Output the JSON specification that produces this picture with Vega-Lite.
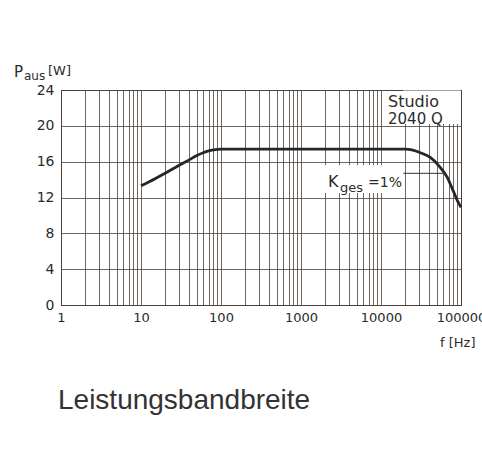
{
  "$schema": "https://vega.github.io/schema/vega-lite/v6.json",
  "width": 400,
  "height": 215,
  "autosize": {"type": "none"},
  "padding": {"left": 61, "top": 90, "right": 21, "bottom": 161},
  "background": "white",
  "config": {
    "view": {"stroke": "#4a403c", "strokeWidth": 1},
    "axis": {
      "labelFont": "DejaVu Sans",
      "labelFontSize": 13,
      "labelColor": "#2b2b2b",
      "gridColor": "#4a403c",
      "gridOpacity": 1,
      "gridWidth": 0.8,
      "domainColor": "#4a403c",
      "ticks": false
    }
  },
  "title": {
    "text": "Leistungsbandbreite",
    "orient": "bottom",
    "anchor": "start",
    "frame": "group",
    "font": "Liberation Sans",
    "fontSize": 28,
    "fontWeight": "normal",
    "color": "#333333",
    "offset": 38,
    "dx": -3
  },
  "encoding": {
    "x": {
      "field": "f", "type": "quantitative",
      "scale": {"type": "log", "domain": [1, 100000], "nice": false},
      "axis": {
        "values": [1,2,3,4,5,6,7,8,9,10,20,30,40,50,60,70,80,90,100,200,300,400,500,600,700,800,900,1000,2000,3000,4000,5000,6000,7000,8000,9000,10000,20000,30000,40000,50000,60000,70000,80000,90000,100000],
        "labelExpr": "indexof([1,10,100,1000,10000,100000], datum.value) >= 0 ? format(datum.value, 'd') : ''",
        "labelOverlap": false,
        "labelPadding": 6,
        "labelFlush": false,
        "title": "f [Hz]",
        "titleFont": "DejaVu Sans",
        "titleFontSize": 13,
        "titleFontWeight": "normal",
        "titleColor": "#2b2b2b",
        "titleAnchor": "end",
        "titleAlign": "right",
        "titleBaseline": "top",
        "titleX": 414,
        "titleY": 31
      }
    },
    "y": {
      "field": "p", "type": "quantitative",
      "scale": {"domain": [0, 24], "nice": false},
      "axis": {
        "values": [0, 4, 8, 12, 16, 20, 24],
        "labelOverlap": false,
        "labelPadding": 7,
        "labelFontSize": 14,
        "title": null
      }
    }
  },
  "layer": [
    {
      "data": {"values": [
        {"f": 19000, "f2": 99000, "p": 20.2, "p2": 23.95},
        {"f": 1950, "f2": 19500, "p": 12.5, "p2": 15.6}
      ]},
      "mark": {"type": "rect", "color": "white", "opacity": 1},
      "encoding": {"x2": {"field": "f2"}, "y2": {"field": "p2"}}
    },
    {
      "data": {"values": [
        {"f": 10, "p": 13.3}, {"f": 15, "p": 14.1}, {"f": 20, "p": 14.7}, {"f": 30, "p": 15.6},
        {"f": 40, "p": 16.2}, {"f": 50, "p": 16.7}, {"f": 60, "p": 17.0}, {"f": 70, "p": 17.2},
        {"f": 85, "p": 17.35}, {"f": 100, "p": 17.4}, {"f": 1000, "p": 17.4}, {"f": 10000, "p": 17.4},
        {"f": 20000, "p": 17.4}, {"f": 25000, "p": 17.3}, {"f": 30000, "p": 17.05}, {"f": 41000, "p": 16.5},
        {"f": 54650, "p": 15.4}, {"f": 66800, "p": 14.3}, {"f": 79400, "p": 12.8}, {"f": 91700, "p": 11.5},
        {"f": 100000, "p": 10.9}
      ]},
      "mark": {"type": "line", "color": "#262626", "strokeWidth": 2.8, "interpolate": "monotone"}
    },
    {
      "data": {"values": [{"f": 19000, "f2": 63000, "p": 14.7}]},
      "mark": {"type": "rule", "color": "#333333", "strokeWidth": 1},
      "encoding": {"x2": {"field": "f2"}}
    },
    {
      "data": {"values": [{"f": 18840, "p": 14.7, "t": "K"}]},
      "mark": {"type": "text", "align": "left", "baseline": "alphabetic", "font": "DejaVu Sans", "fontSize": 16, "color": "#2b2b2b", "dx": -75, "dy": 14},
      "encoding": {"text": {"field": "t"}}
    },
    {
      "data": {"values": [{"f": 18840, "p": 14.7, "t": "ges"}]},
      "mark": {"type": "text", "align": "left", "baseline": "alphabetic", "font": "DejaVu Sans", "fontSize": 13, "color": "#2b2b2b", "dx": -63, "dy": 19},
      "encoding": {"text": {"field": "t"}}
    },
    {
      "data": {"values": [{"f": 18840, "p": 14.7, "t": "=1%"}]},
      "mark": {"type": "text", "align": "left", "baseline": "alphabetic", "font": "DejaVu Sans", "fontSize": 14, "color": "#2b2b2b", "dx": -35, "dy": 14},
      "encoding": {"text": {"field": "t"}}
    },
    {
      "data": {"values": [{"f": 100000, "p": 24, "t": "Studio"}]},
      "mark": {"type": "text", "align": "left", "baseline": "alphabetic", "font": "DejaVu Sans", "fontSize": 16, "color": "#2b2b2b", "dx": -73, "dy": 17},
      "encoding": {"text": {"field": "t"}}
    },
    {
      "data": {"values": [{"f": 100000, "p": 24, "t": "2040 Q"}]},
      "mark": {"type": "text", "align": "left", "baseline": "alphabetic", "font": "DejaVu Sans", "fontSize": 15, "color": "#2b2b2b", "dx": -73, "dy": 34},
      "encoding": {"text": {"field": "t"}}
    },
    {
      "data": {"values": [{"f": 1, "p": 24, "t": "P"}]},
      "mark": {"type": "text", "align": "left", "baseline": "alphabetic", "font": "DejaVu Sans", "fontSize": 15, "color": "#2b2b2b", "dx": -47, "dy": -13},
      "encoding": {"text": {"field": "t"}}
    },
    {
      "data": {"values": [{"f": 1, "p": 24, "t": "aus"}]},
      "mark": {"type": "text", "align": "left", "baseline": "alphabetic", "font": "DejaVu Sans", "fontSize": 12, "color": "#2b2b2b", "dx": -37, "dy": -10},
      "encoding": {"text": {"field": "t"}}
    },
    {
      "data": {"values": [{"f": 1, "p": 24, "t": "[W]"}]},
      "mark": {"type": "text", "align": "left", "baseline": "alphabetic", "font": "DejaVu Sans", "fontSize": 13, "color": "#2b2b2b", "dx": -13, "dy": -15},
      "encoding": {"text": {"field": "t"}}
    }
  ]
}
